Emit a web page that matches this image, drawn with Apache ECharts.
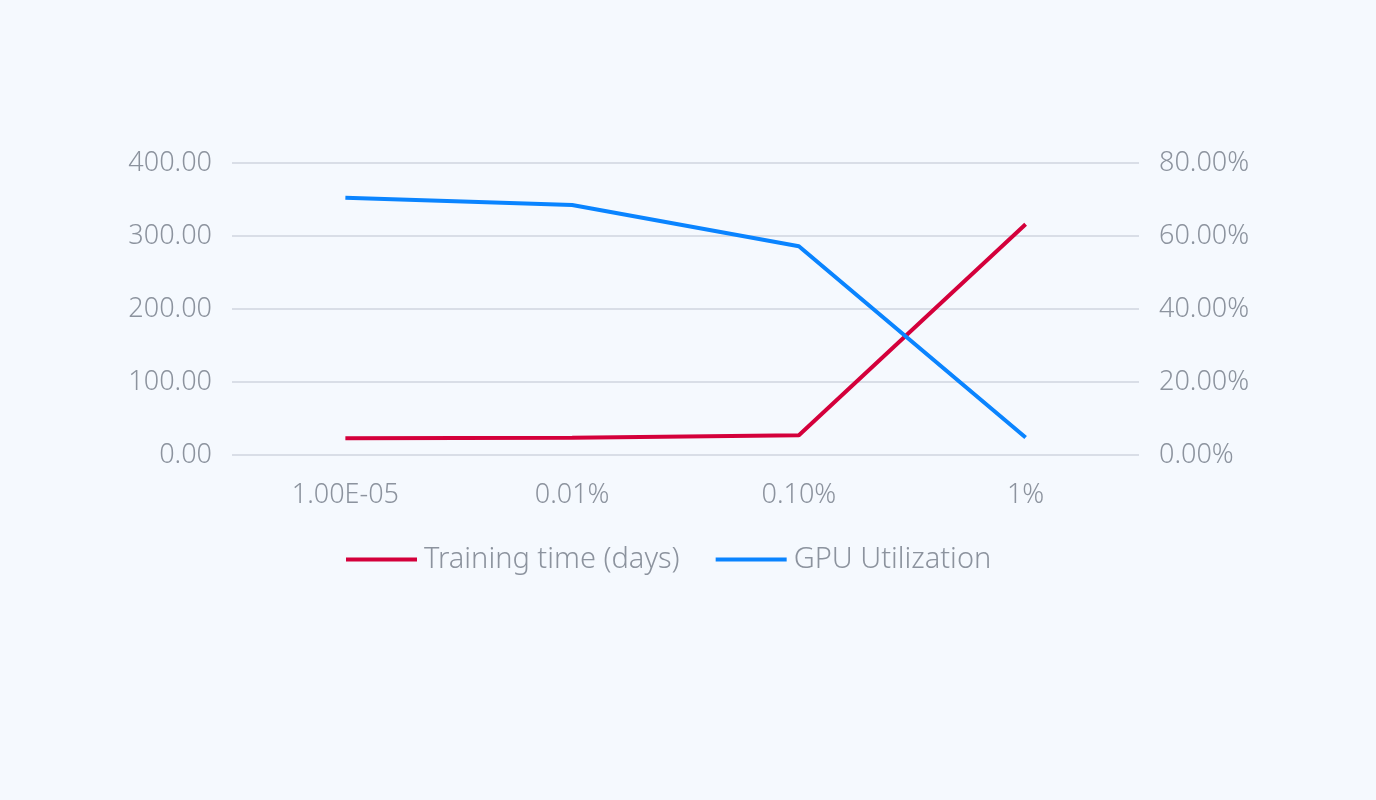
<!DOCTYPE html>
<html lang="en">
<head>
    <meta charset="UTF-8">
    <title>Training time vs GPU utilization</title>
    <script src="https://cdn.jsdelivr.net/npm/echarts@6.0.0/dist/echarts.min.js"></script>
    <style>
        html, body {
            margin: 0;
            padding: 0;
            background: #f5f9fe;
        }
        #chart {
            width: 1376px;
            height: 800px;
        }
    </style>
</head>
<body>
    <div id="chart"></div>

    <script>
        const categories = ['1.00E-05', '0.01%', '0.10%', '1%'];
        const trainingDays = [23, 23.5, 27, 316];
        const gpuUtilization = [70.5, 68.5, 57.2, 4.8];

        const labelColor = '#8c939e';
        const fontFamily = '"Noto Sans", "Open Sans", sans-serif';
        const fontSize = 27;

        const chart = echarts.init(document.getElementById('chart'));
        chart.setOption({
            backgroundColor: '#f5f9fe',
            animation: false,
            grid: {
                left: 232,
                right: 237,
                top: 163,
                bottom: 345
            },
            legend: {
                bottom: 221,
                left: 341,
                icon: 'rect',
                itemWidth: 71,
                itemHeight: 4,
                itemGap: 36,
                textStyle: {
                    color: labelColor,
                    fontSize: 29,
                    fontWeight: 300,
                    fontFamily: fontFamily,
                    padding: [0, 0, 0, 2]
                },
                data: ['Training time (days)', 'GPU Utilization']
            },
            xAxis: {
                type: 'category',
                data: categories,
                boundaryGap: true,
                axisLine: { show: false },
                axisTick: { show: false },
                axisLabel: {
                    color: labelColor,
                    fontSize: fontSize,
                    fontWeight: 300,
                    fontFamily: fontFamily,
                    margin: 27
                }
            },
            yAxis: [
                {
                    type: 'value',
                    min: 0,
                    max: 400,
                    interval: 100,
                    axisLine: { show: false },
                    axisTick: { show: false },
                    splitLine: { lineStyle: { color: '#d9dee7', width: 2 } },
                    axisLabel: {
                        color: labelColor,
                        fontSize: fontSize,
                        fontWeight: 300,
                        fontFamily: fontFamily,
                        margin: 20,
                        formatter: v => v.toFixed(2)
                    }
                },
                {
                    type: 'value',
                    min: 0,
                    max: 80,
                    interval: 20,
                    axisLine: { show: false },
                    axisTick: { show: false },
                    splitLine: { show: false },
                    axisLabel: {
                        color: labelColor,
                        fontSize: fontSize,
                        fontWeight: 300,
                        fontFamily: fontFamily,
                        margin: 20,
                        formatter: v => v.toFixed(2) + '%'
                    }
                }
            ],
            series: [
                {
                    name: 'Training time (days)',
                    type: 'line',
                    yAxisIndex: 0,
                    data: trainingDays,
                    symbol: 'none',
                    lineStyle: { color: '#d4003b', width: 4 },
                    itemStyle: { color: '#d4003b' }
                },
                {
                    name: 'GPU Utilization',
                    type: 'line',
                    yAxisIndex: 1,
                    data: gpuUtilization,
                    symbol: 'none',
                    lineStyle: { color: '#0a84ff', width: 4 },
                    itemStyle: { color: '#0a84ff' }
                }
            ]
        });
    </script>
</body>
</html>
